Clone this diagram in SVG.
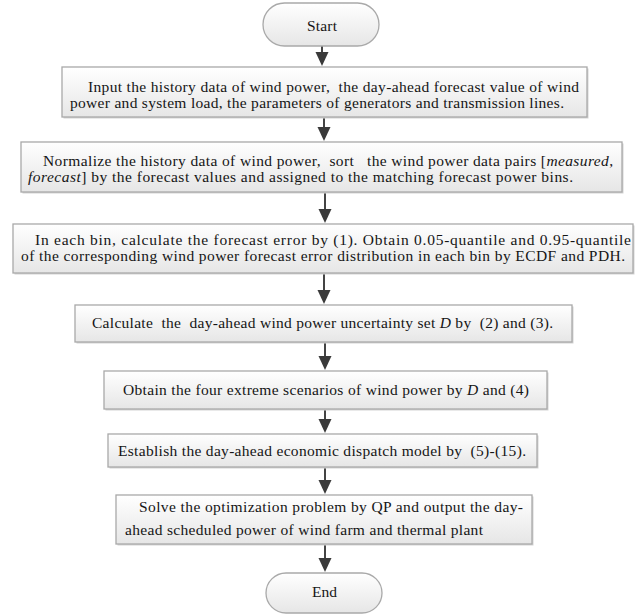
<svg xmlns="http://www.w3.org/2000/svg" width="638" height="614" viewBox="0 0 638 614">
<defs>
<linearGradient id="g" x1="0" y1="0" x2="0" y2="1">
<stop offset="0" stop-color="#ffffff"/>
<stop offset="1" stop-color="#e6e6e6"/>
</linearGradient>
<style>
.box{fill:url(#g);stroke:#a9a9a9;stroke-width:1.3}
.sh{fill:#d4d4d4}
.t{font-family:"Liberation Serif","Times New Roman",serif;font-size:15.5px;fill:#151515;white-space:pre}
.i{font-style:italic}
.c{stroke:#444;stroke-width:2;fill:none}
.h{fill:#3a3a3a}
</style>
</defs>
<rect width="638" height="614" fill="#fff"/>
<g id="connectors">
<path class="c" d="M322,46 V53"/><path class="h" d="M315.5,52 H328.5 L322,66 Z"/>
<path class="c" d="M324,117 V128"/><path class="h" d="M317.5,127 H330.5 L324,141 Z"/>
<path class="c" d="M325,192 V210"/><path class="h" d="M318.5,209 H331.5 L325,223 Z"/>
<path class="c" d="M324,273 V291"/><path class="h" d="M317.5,290 H330.5 L324,304 Z"/>
<path class="c" d="M325,342 V357"/><path class="h" d="M318.5,356 H331.5 L325,370 Z"/>
<path class="c" d="M325,409 V420"/><path class="h" d="M318.5,419 H331.5 L325,433 Z"/>
<path class="c" d="M325,467 V481"/><path class="h" d="M318.5,480 H331.5 L325,494 Z"/>
<path class="c" d="M325,544 V559"/><path class="h" d="M318.5,558 H331.5 L325,572 Z"/>
</g>
<g id="start">
<rect class="box" x="263" y="3" width="116" height="43" rx="21.5"/>
<text class="t" x="307" y="31" textLength="30">Start</text>
</g>
<g id="step1">
<rect class="sh" x="63.5" y="68.5" width="525" height="50"/>
<rect class="box" x="62" y="67" width="525" height="50"/>
<text class="t" x="88" y="92" textLength="491">Input the history data of wind power,  the day-ahead forecast value of wind</text>
<text class="t" x="70" y="108" textLength="494">power and system load, the parameters of generators and transmission lines.</text>
</g>
<g id="step2">
<rect class="sh" x="22.5" y="143.5" width="601" height="50"/>
<rect class="box" x="21" y="142" width="601" height="50"/>
<text class="t" x="43" y="166" textLength="570">Normalize the history data of wind power,  sort   the wind power data pairs [<tspan class="i">measured</tspan>,</text>
<text class="t" x="28" y="182" textLength="545"><tspan class="i">forecast</tspan>] by the forecast values and assigned to the matching forecast power bins.</text>
</g>
<g id="step3">
<rect class="sh" x="14.5" y="225.5" width="620" height="49"/>
<rect class="box" x="13" y="224" width="620" height="49"/>
<text class="t" x="35" y="245" textLength="596">In each bin, calculate the forecast error by (1). Obtain 0.05-quantile and 0.95-quantile</text>
<text class="t" x="21" y="261" textLength="604">of the corresponding wind power forecast error distribution in each bin by ECDF and PDH.</text>
</g>
<g id="step4">
<rect class="sh" x="76.5" y="306.5" width="497" height="37"/>
<rect class="box" x="75" y="305" width="497" height="37"/>
<text class="t" x="92" y="328" textLength="461">Calculate  the  day-ahead wind power uncertainty set <tspan class="i">D</tspan> by  (2) and (3).</text>
</g>
<g id="step5">
<rect class="sh" x="105.5" y="372.5" width="443" height="38"/>
<rect class="box" x="104" y="371" width="443" height="38"/>
<text class="t" x="123" y="395" textLength="406">Obtain the four extreme scenarios of wind power by <tspan class="i">D</tspan> and (4)</text>
</g>
<g id="step6">
<rect class="sh" x="109.5" y="435.5" width="429" height="33"/>
<rect class="box" x="108" y="434" width="429" height="33"/>
<text class="t" x="118" y="456" textLength="408">Establish the day-ahead economic dispatch model by  (5)-(15).</text>
</g>
<g id="step7">
<rect class="sh" x="117.5" y="496.5" width="416" height="49"/>
<rect class="box" x="116" y="495" width="416" height="49"/>
<text class="t" x="139" y="512" textLength="384">Solve the optimization problem by QP and output the day-</text>
<text class="t" x="125" y="535" textLength="358">ahead scheduled power of wind farm and thermal plant</text>
</g>
<g id="end">
<rect class="box" x="266" y="573" width="116" height="40" rx="20"/>
<text class="t" x="312" y="597" textLength="25">End</text>
</g>
</svg>
